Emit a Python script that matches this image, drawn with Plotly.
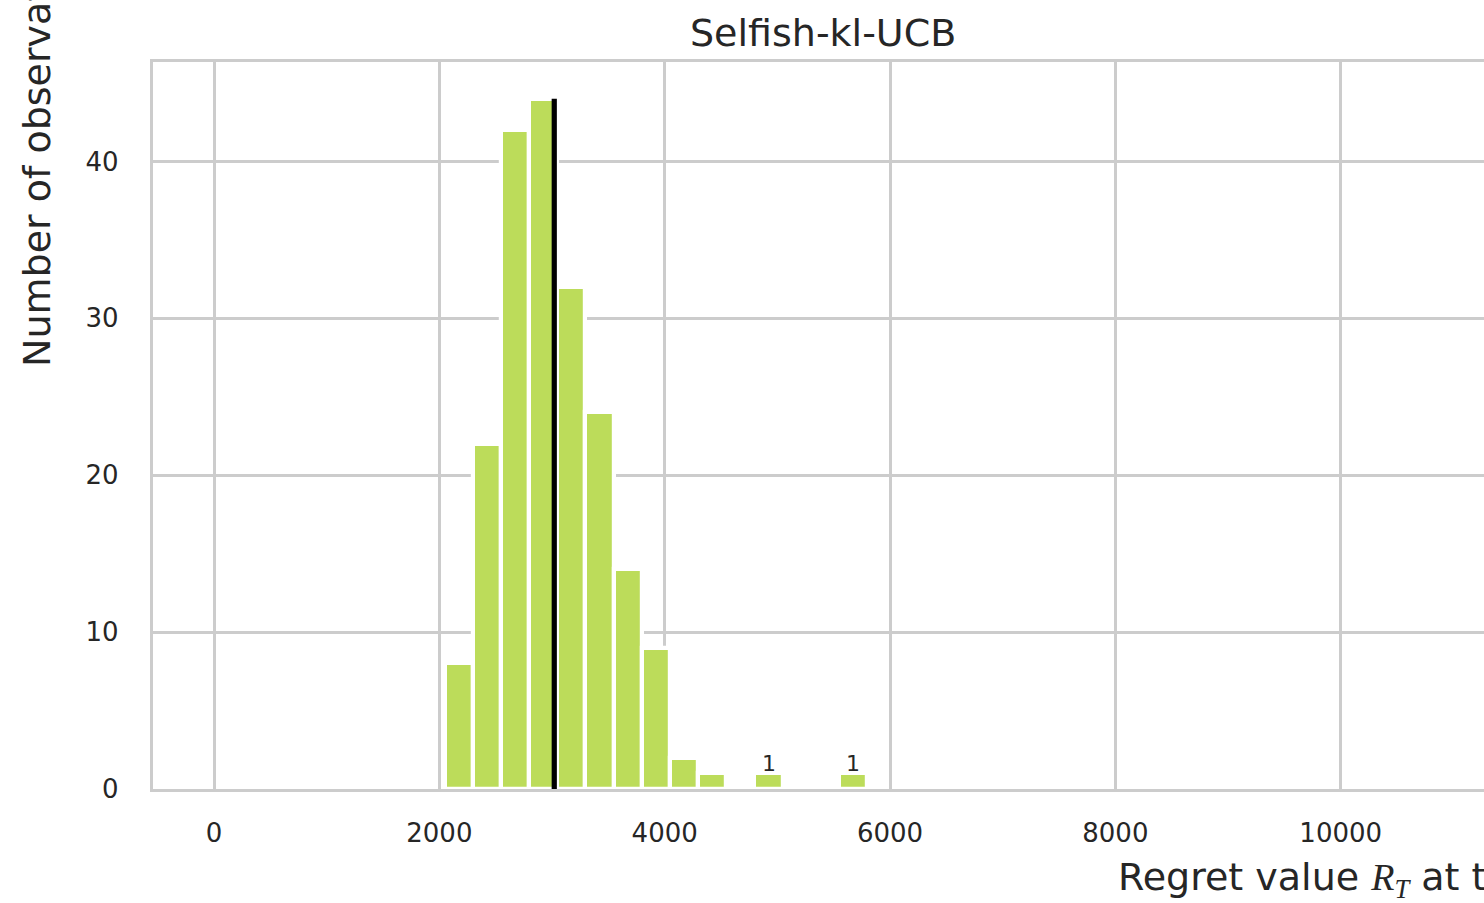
import plotly.graph_objects as go

# ---- data ----
bin_start = 2047.0
bin_width = 250.0
counts = [8, 22, 42, 44, 32, 24, 14, 9, 2, 1, 0, 1, 0, 0, 1]
bar_labels = ["", "", "", "", "", "", "", "", "", "", "", "1", "", "", "1"]
mean_regret = 3020.0
x_ticks = [0, 2000, 4000, 6000, 8000, 10000]
y_ticks = [0, 10, 20, 30, 40]
title_text = "Selfish-kl-UCB"
ylabel_text = "Number of observations"
xlabel_text = ("Regret value <span style='font-family:Liberation Serif'><i>R</i><sub><i>T</i></sub></span>"
               " at the end of simulation, for <span style='font-family:Liberation Serif'><i>T</i></span> = 10000")

centers = [bin_start + bin_width * (i + 0.5) for i in range(len(counts))]

W, H = 1484, 903
# target plot box in page pixels
PL, PT, PB = 153, 62, 789
L, T, B, R = PL, PT, H - PB, 0
pw, ph = W - L - R, H - T - B

def px_x(p):  # page px -> paper x
    return (p - L) / pw

def px_y(p):  # page px -> paper y
    return (H - B - p) / ph

X0_PX, XSCALE = 214, 0.11267
Y0_PX, YSCALE = 789, 15.69

TXT = "#262626"
GRID = "#cccccc"
FONT = "DejaVu Sans"

fig = go.Figure()
fig.add_trace(go.Bar(
    x=centers, y=counts, width=[bin_width] * len(counts),
    marker=dict(color="#bcdc5a", line=dict(color="white", width=4.2)),
    showlegend=False, hoverinfo="skip",
))
fig.add_trace(go.Scatter(
    x=[mean_regret, mean_regret], y=[0, max(counts)], mode="lines",
    line=dict(color="black", width=5.2), showlegend=False, hoverinfo="skip",
))

annotations = [
    dict(text=title_text, xref="paper", yref="paper", x=px_x(822.5), y=px_y(33),
         xanchor="center", yanchor="middle", showarrow=False,
         font=dict(family=FONT, size=38, color=TXT), borderpad=0),
    dict(text=ylabel_text, xref="paper", yref="paper", x=px_x(37), y=px_y(368),
         xanchor="center", yanchor="bottom", textangle=-90, showarrow=False,
         font=dict(family=FONT, size=38, color=TXT), borderpad=0),
    dict(text=xlabel_text, xref="paper", yref="paper", x=px_x(1117), y=px_y(880),
         xanchor="left", yanchor="middle", showarrow=False,
         font=dict(family=FONT, size=38, color=TXT), borderpad=0),
]
for cx, cnt, lab in zip(centers, counts, bar_labels):
    if lab:
        annotations.append(dict(
            text=lab, x=cx, y=cnt, xref="x", yref="y",
            xanchor="center", yanchor="bottom", yshift=-4, showarrow=False,
            font=dict(family=FONT, size=22, color=TXT), borderpad=0))

fig.update_layout(
    width=W, height=H,
    margin=dict(l=L, r=R, t=T, b=B, pad=0),
    paper_bgcolor="white", plot_bgcolor="white",
    font=dict(family=FONT, color=TXT),
    bargap=0,
    xaxis=dict(
        range=[(PL - X0_PX) / XSCALE, (W - X0_PX) / XSCALE],
        tickvals=x_ticks, ticktext=[str(v) for v in x_ticks],
        tickfont=dict(family=FONT, size=26, color=TXT),
        showgrid=True, gridcolor=GRID, gridwidth=2.8,
        zeroline=False, showline=True, linecolor=GRID, linewidth=3.4, mirror=True,
        ticks="", ticklabelstandoff=19,
    ),
    yaxis=dict(
        range=[0, (Y0_PX - PT) / YSCALE],
        tickvals=y_ticks, ticktext=[str(v) for v in y_ticks],
        tickfont=dict(family=FONT, size=26, color=TXT),
        showgrid=True, gridcolor=GRID, gridwidth=2.8,
        zeroline=False, showline=True, linecolor=GRID, linewidth=3.4, mirror=False,
        ticks="", ticklabelstandoff=26,
    ),
    annotations=annotations,
)

fig.write_html(
    "out.html",
    config={"displayModeBar": False},
    post_script="document.body.style.margin='0';document.body.style.overflow='hidden';",
)
